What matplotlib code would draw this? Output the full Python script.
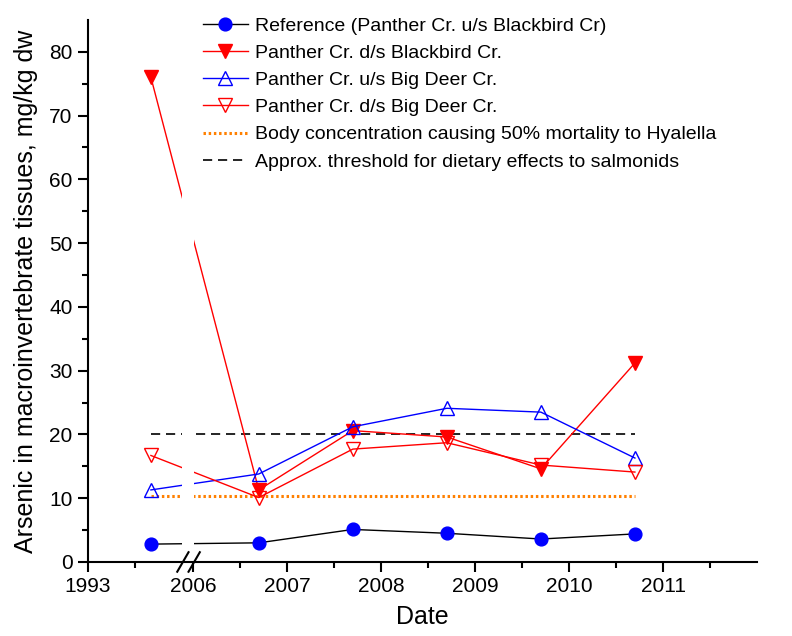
import numpy as np
import matplotlib.pyplot as plt
from matplotlib.lines import Line2D

plt.rcParams['font.family'] = ['Liberation Sans', 'DejaVu Sans']

# sampling dates (decimal years) and arsenic in invertebrate tissue, mg/kg dw
dates = [1993.67, 2006.7, 2007.7, 2008.7, 2009.7, 2010.7]
reference = [2.8, 3.0, 5.1, 4.5, 3.6, 4.4]
ds_blackbird = [76.0, 11.3, 20.6, 19.6, 14.6, 31.2]
us_big_deer = [11.3, 13.8, 21.2, 24.1, 23.5, 16.3]
ds_big_deer = [16.7, 10.1, 17.7, 18.7, 15.2, 14.1]

hyalella_lc50 = 10.4
salmonid_threshold = 20.0

major_years = [1993, 2006, 2007, 2008, 2009, 2010, 2011]
minor_years = [1993.5, 2006.5, 2007.5, 2008.5, 2009.5, 2010.5, 2011.5]

# broken x axis: 1993-1994 segment, then 2006 onwards
BREAK_LO, BREAK_HI = 1994.0, 2006.0
GAP = 0.117


def to_axis(year):
    year = np.asarray(year, dtype=float)
    return np.where(year <= BREAK_LO, year - 1993, year - BREAK_HI + 1 + GAP)


x = to_axis(dates)
x_span = to_axis([dates[0], dates[-1]])

fig = plt.figure(figsize=(7.92, 6.36), dpi=100)
ax = fig.add_axes([0.111, 0.1164, 0.845, 0.8522])

ax.plot(x, reference, color='black', lw=1.0, marker='o', ms=9.2,
        mfc='#0000FF', mec='#0000FF', zorder=2,
        label='Reference (Panther Cr. u/s Blackbird Cr)')
ax.plot(x, ds_blackbird, color='#FF0000', lw=1.0, marker='v', ms=10,
        mfc='#FF0000', mec='#FF0000', zorder=2,
        label='Panther Cr. d/s Blackbird Cr.')
ax.plot(x, us_big_deer, color='#0000FF', lw=1.0, marker='^', ms=10,
        mfc='none', mec='#0000FF', mew=1.0, zorder=2,
        label='Panther Cr. u/s Big Deer Cr.')
ax.plot(x, ds_big_deer, color='#FF0000', lw=1.0, marker='v', ms=10,
        mfc='none', mec='#FF0000', mew=1.0, zorder=2,
        label='Panther Cr. d/s Big Deer Cr.')
ax.plot(x_span, [hyalella_lc50] * 2, color='#FF8000', lw=2.2,
        dashes=(0.8, 0.9), zorder=1.5,
        label='Body concentration causing 50% mortality to Hyalella')
ax.plot(x_span, [salmonid_threshold] * 2, color='black', lw=1.2,
        dashes=(5.5, 3.5), zorder=1.5,
        label='Approx. threshold for dietary effects to salmonids')

# white gap where the axis is broken
ax.axvspan(1.0, 1.13, color='white', zorder=2.5, lw=0)

ax.set_xlim(0, float(to_axis(2012)))
ax.set_ylim(0, 85)
ax.set_xticks(to_axis(major_years))
ax.set_xticklabels([str(y) for y in major_years])
ax.set_xticks(to_axis(minor_years), minor=True)
ax.set_yticks(np.arange(0, 81, 10))
ax.set_yticks(np.arange(5, 85, 10), minor=True)

for side in ['top', 'right']:
    ax.spines[side].set_visible(False)
for side in ['left', 'bottom']:
    ax.spines[side].set_linewidth(1.5)

ax.tick_params(which='major', direction='out', length=7, width=1.5,
               labelsize=15, pad=4)
ax.tick_params(which='minor', direction='out', length=4, width=1.5)

ax.set_xlabel('Date', fontsize=18, labelpad=6)
ax.set_ylabel('Arsenic in macroinvertebrate tissues, mg/kg dw', fontsize=18,
              labelpad=8)

# break marks on the x axis
for dx in (0.0, 0.12):
    ax.add_line(Line2D([0.95 + dx, 1.07 + dx], [-0.018, 0.018],
                       transform=ax.get_xaxis_transform(), color='black',
                       lw=1.5, clip_on=False, zorder=5))

ax.legend(loc='upper left', bbox_to_anchor=(0.172, 1.005), frameon=False,
          fontsize=14, handlelength=2.3, handletextpad=0.35,
          labelspacing=0.49, borderaxespad=0, borderpad=0)

fig.savefig('out.png', dpi=100)
